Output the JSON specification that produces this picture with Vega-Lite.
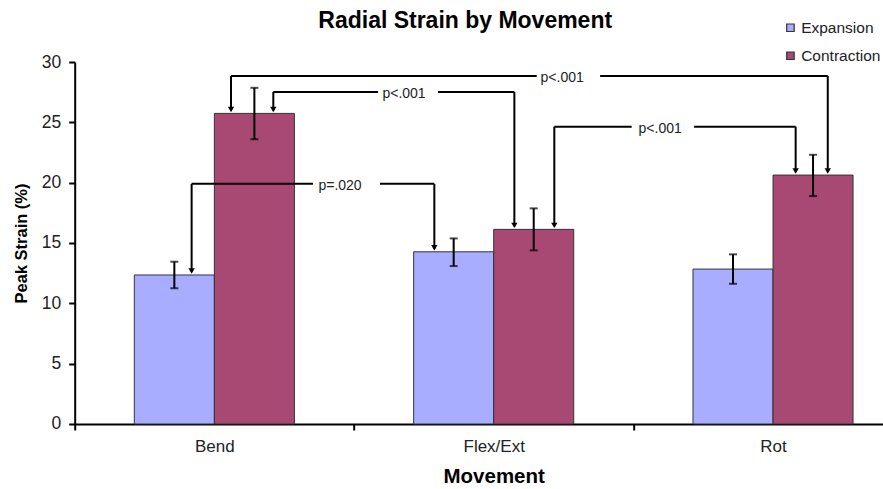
{
  "$schema": "https://vega.github.io/schema/vega-lite/v6.json",
  "width": 809,
  "height": 362,
  "autosize": {"type": "none"},
  "padding": {"left": 74.7, "top": 62, "right": 0, "bottom": 65},
  "background": "white",
  "config": {
    "font": "Liberation Sans",
    "view": {"stroke": null},
    "axis": {"grid": false}
  },
  "title": {
    "text": "Radial Strain by Movement",
    "fontSize": 23,
    "fontWeight": "bold",
    "color": "black",
    "anchor": "middle",
    "dx": -14,
    "offset": -13
  },
  "datasets": {
    "bars": [
      {"movement": "Bend", "series": "Expansion", "value": 12.35, "lo": 11.25, "hi": 13.45},
      {"movement": "Bend", "series": "Contraction", "value": 25.74, "lo": 23.6, "hi": 27.86},
      {"movement": "Flex/Ext", "series": "Expansion", "value": 14.27, "lo": 13.09, "hi": 15.38},
      {"movement": "Flex/Ext", "series": "Contraction", "value": 16.13, "lo": 14.39, "hi": 17.87},
      {"movement": "Rot", "series": "Expansion", "value": 12.84, "lo": 11.62, "hi": 14.06},
      {"movement": "Rot", "series": "Contraction", "value": 20.63, "lo": 18.89, "hi": 22.31}
    ],
    "segments": [
      {"x": 0.4186, "x2": 0.4186, "y": 19.9, "y2": 12.6},
      {"x": 0.4186, "x2": 0.853, "y": 19.9, "y2": 19.9},
      {"x": 1.093, "x2": 1.2875, "y": 19.9, "y2": 19.9},
      {"x": 1.2875, "x2": 1.2875, "y": 19.9, "y2": 14.5},
      {"x": 0.711, "x2": 0.711, "y": 27.52, "y2": 26.0},
      {"x": 0.711, "x2": 1.086, "y": 27.52, "y2": 27.52},
      {"x": 1.3007, "x2": 1.574, "y": 27.52, "y2": 27.52},
      {"x": 1.574, "x2": 1.574, "y": 27.52, "y2": 16.4},
      {"x": 0.5596, "x2": 0.5596, "y": 28.84, "y2": 26.0},
      {"x": 0.5596, "x2": 1.654, "y": 28.84, "y2": 28.84},
      {"x": 1.881, "x2": 2.696, "y": 28.84, "y2": 28.84},
      {"x": 2.696, "x2": 2.696, "y": 28.84, "y2": 20.9},
      {"x": 1.717, "x2": 1.717, "y": 24.64, "y2": 16.4},
      {"x": 1.717, "x2": 1.994, "y": 24.64, "y2": 24.64},
      {"x": 2.217, "x2": 2.581, "y": 24.64, "y2": 24.64},
      {"x": 2.581, "x2": 2.581, "y": 24.64, "y2": 20.9}
    ],
    "arrows": [
      {"x": 0.4186, "y": 12.35},
      {"x": 1.2875, "y": 14.27},
      {"x": 0.711, "y": 25.74},
      {"x": 0.5596, "y": 25.74},
      {"x": 1.574, "y": 16.13},
      {"x": 1.717, "y": 16.13},
      {"x": 2.581, "y": 20.63},
      {"x": 2.696, "y": 20.63}
    ],
    "labels": [
      {"x": 0.95, "y": 19.9, "text": "p=.020"},
      {"x": 1.179, "y": 27.52, "text": "p<.001"},
      {"x": 1.745, "y": 28.84, "text": "p<.001"},
      {"x": 2.096, "y": 24.64, "text": "p<.001"}
    ]
  },
  "layer": [
    {
      "data": {"name": "bars"},
      "layer": [
        {
          "mark": {"type": "bar", "stroke": "#333333", "strokeWidth": 1},
          "encoding": {
            "x": {
              "field": "movement",
              "type": "nominal",
              "sort": ["Bend", "Flex/Ext", "Rot"],
              "scale": {"range": [0, 838], "paddingInner": 0, "paddingOuter": 0},
              "axis": {
                "title": "Movement",
                "titleFontSize": 20.5,
                "titleFontWeight": "bold",
                "titleColor": "black",
                "titlePadding": 12,
                "labelFontSize": 17,
                "labelColor": "#222222",
                "labelAngle": 0,
                "labelPadding": 9,
                "domainColor": "black",
                "domainWidth": 2,
                "tickColor": "black",
                "tickWidth": 2,
                "tickSize": 6,
                "tickBand": "extent"
              }
            },
            "xOffset": {
              "field": "series",
              "type": "nominal",
              "sort": ["Expansion", "Contraction"],
              "scale": {"paddingOuter": 0.745, "paddingInner": 0}
            },
            "y": {
              "field": "value",
              "type": "quantitative",
              "scale": {"domain": [0, 30], "nice": false},
              "axis": {
                "title": "Peak Strain (%)",
                "titleFontSize": 16.5,
                "titleFontWeight": "bold",
                "titleColor": "black",
                "titlePadding": 12,
                "values": [0, 5, 10, 15, 20, 25, 30],
                "labelFontSize": 17.5,
                "labelColor": "#222222",
                "labelPadding": 8,
                "domainColor": "black",
                "domainWidth": 2,
                "tickColor": "black",
                "tickWidth": 2,
                "tickSize": 6
              }
            },
            "color": {
              "field": "series",
              "type": "nominal",
              "sort": ["Expansion", "Contraction"],
              "scale": {"domain": ["Expansion", "Contraction"], "range": ["#A9ADFF", "#A84974"]},
              "legend": {
                "title": null,
                "orient": "none",
                "legendX": 708,
                "legendY": -42,
                "symbolType": "square",
                "symbolSize": 56,
                "symbolStrokeColor": "#333333",
                "symbolStrokeWidth": 1.2,
                "labelFontSize": 15.5,
                "labelColor": "#222222",
                "labelOffset": 3,
                "rowPadding": 11
              }
            }
          }
        },
        {
          "mark": {"type": "rule", "color": "black", "strokeWidth": 2},
          "encoding": {
            "x": {"field": "movement", "type": "nominal", "sort": ["Bend", "Flex/Ext", "Rot"]},
            "xOffset": {"field": "series", "type": "nominal", "sort": ["Expansion", "Contraction"]},
            "y": {"field": "lo", "type": "quantitative"},
            "y2": {"field": "hi"}
          }
        },
        {
          "mark": {"type": "tick", "color": "black", "thickness": 2, "size": 8},
          "encoding": {
            "x": {"field": "movement", "type": "nominal", "sort": ["Bend", "Flex/Ext", "Rot"]},
            "xOffset": {"field": "series", "type": "nominal", "sort": ["Expansion", "Contraction"]},
            "y": {"field": "lo", "type": "quantitative"}
          }
        },
        {
          "mark": {"type": "tick", "color": "black", "thickness": 2, "size": 8},
          "encoding": {
            "x": {"field": "movement", "type": "nominal", "sort": ["Bend", "Flex/Ext", "Rot"]},
            "xOffset": {"field": "series", "type": "nominal", "sort": ["Expansion", "Contraction"]},
            "y": {"field": "hi", "type": "quantitative"}
          }
        }
      ]
    },
    {
      "layer": [
        {
          "data": {"name": "segments"},
          "mark": {"type": "rule", "color": "black", "strokeWidth": 2},
          "encoding": {
            "x": {"field": "x", "type": "quantitative", "scale": {"domain": [0, 3], "range": [0, 838], "nice": false, "zero": false}, "axis": null},
            "x2": {"field": "x2"},
            "y": {"field": "y", "type": "quantitative"},
            "y2": {"field": "y2"}
          }
        },
        {
          "data": {"name": "arrows"},
          "mark": {"type": "point", "shape": "triangle-down", "filled": true, "color": "black", "size": 40, "yOffset": -4, "opacity": 1},
          "encoding": {
            "x": {"field": "x", "type": "quantitative"},
            "y": {"field": "y", "type": "quantitative"}
          }
        },
        {
          "data": {"name": "labels"},
          "mark": {"type": "text", "fontSize": 14, "color": "#222222", "baseline": "middle", "align": "center", "dy": 2},
          "encoding": {
            "x": {"field": "x", "type": "quantitative"},
            "y": {"field": "y", "type": "quantitative"},
            "text": {"field": "text"}
          }
        }
      ]
    }
  ],
  "resolve": {"scale": {"x": "independent"}, "axis": {"x": "independent"}}
}
